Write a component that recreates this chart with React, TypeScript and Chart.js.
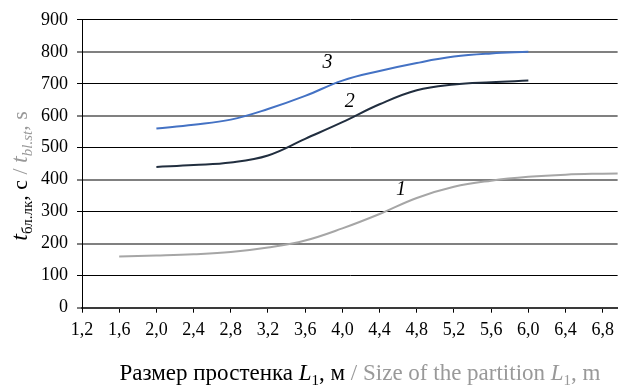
import React, { useEffect, useRef } from 'react';
import { Chart, registerables } from 'chart.js';

Chart.register(...registerables);

// ---- data ----
const xValues1 = [1.6, 2.0, 2.4, 2.8, 3.2, 3.6, 4.0, 4.4, 4.8, 5.2, 5.6, 6.0, 6.4, 6.8, 7.2];
const series1 = [160, 163, 167, 174, 188, 210, 248, 293, 343, 378, 397, 409, 416, 419, 421];
const xValues23 = [2.0, 2.4, 2.8, 3.2, 3.6, 4.0, 4.4, 4.8, 5.2, 5.6, 6.0];
const series2 = [440, 446, 454, 476, 528, 580, 636, 680, 698, 705, 710];
const series3 = [560, 572, 588, 621, 662, 710, 740, 765, 785, 795, 800];
const xTickValues = [1.2, 1.6, 2.0, 2.4, 2.8, 3.2, 3.6, 4.0, 4.4, 4.8, 5.2, 5.6, 6.0, 6.4, 6.8];
const xTickLabels = ['1,2', '1,6', '2,0', '2,4', '2,8', '3,2', '3,6', '4,0', '4,4', '4,8', '5,2', '5,6', '6,0', '6,4', '6,8'];
const yTickValues = [0, 100, 200, 300, 400, 500, 600, 700, 800, 900];
const curveLabels = ['1', '2', '3'];
const curveLabelX = [4.63, 4.08, 3.84];
const curveLabelY = [368, 645, 766];

const SERIF = '"Liberation Serif", "Times New Roman", serif';
const GRAY_TEXT = '#999999';

type Seg = { t: string; font: string; color: string; dy: number };

function drawSegs(ctx: CanvasRenderingContext2D, segs: Seg[], x: number, y: number) {
  let total = 0;
  for (const s of segs) {
    ctx.font = s.font;
    total += ctx.measureText(s.t).width;
  }
  let cx = x - total / 2;
  ctx.textAlign = 'left';
  ctx.textBaseline = 'alphabetic';
  for (const s of segs) {
    ctx.font = s.font;
    ctx.fillStyle = s.color;
    ctx.fillText(s.t, cx, y + s.dy);
    cx += ctx.measureText(s.t).width;
  }
}

const annotationPlugin = {
  id: 'annotations',
  afterDraw(chart: any) {
    const ctx: CanvasRenderingContext2D = chart.ctx;
    const xs = chart.scales.x;
    const ys = chart.scales.y;
    ctx.save();
    // curve labels
    ctx.font = `italic 20px ${SERIF}`;
    ctx.fillStyle = '#000';
    ctx.textAlign = 'center';
    ctx.textBaseline = 'middle';
    curveLabels.forEach((t, i) => {
      ctx.fillText(t, xs.getPixelForValue(curveLabelX[i]), ys.getPixelForValue(curveLabelY[i]));
    });
    // x title
    const main = `23px ${SERIF}`;
    const ital = `italic 23px ${SERIF}`;
    const sub = `15px ${SERIF}`;
    drawSegs(ctx, [
      { t: 'Размер простенка ', font: main, color: '#000', dy: 0 },
      { t: 'L', font: ital, color: '#000', dy: 0 },
      { t: '1', font: sub, color: '#000', dy: 5 },
      { t: ', м', font: main, color: '#000', dy: 0 },
      { t: ' / Size of the partition ', font: main, color: GRAY_TEXT, dy: 0 },
      { t: 'L', font: ital, color: GRAY_TEXT, dy: 0 },
      { t: '1', font: sub, color: GRAY_TEXT, dy: 5 },
      { t: ', m', font: main, color: GRAY_TEXT, dy: 0 },
    ], 360, 380);
    // y title
    ctx.translate(27, 176);
    ctx.rotate(-Math.PI / 2);
    const yMain = `22px ${SERIF}`;
    const yItal = `italic 24px ${SERIF}`;
    const ySub = `15px ${SERIF}`;
    const ySubI = `italic 15px ${SERIF}`;
    drawSegs(ctx, [
      { t: 't', font: yItal, color: '#000', dy: 0 },
      { t: 'бл.лк', font: ySub, color: '#000', dy: 5 },
      { t: ', с', font: yMain, color: '#000', dy: 0 },
      { t: ' / ', font: yMain, color: GRAY_TEXT, dy: 0 },
      { t: 't', font: yItal, color: GRAY_TEXT, dy: 0 },
      { t: 'bl.st', font: ySubI, color: GRAY_TEXT, dy: 5 },
      { t: ', s', font: yMain, color: GRAY_TEXT, dy: 0 },
    ], 0, 0);
    ctx.restore();
  },
};

export default function App() {
  const ref = useRef<HTMLCanvasElement | null>(null);
  useEffect(() => {
    document.body.style.margin = '0';
    const canvas = ref.current;
    if (!canvas) return;
    const chart = new Chart(canvas, {
      type: 'line',
      data: {
        datasets: [
          {
            label: '1',
            data: xValues1.map((x, i) => ({ x, y: series1[i] })),
            borderColor: '#a6a6a6',
            borderWidth: 2,
            pointRadius: 0,
            tension: 0.4,
            fill: false,
          },
          {
            label: '2',
            data: xValues23.map((x, i) => ({ x, y: series2[i] })),
            borderColor: '#212e3f',
            borderWidth: 2,
            pointRadius: 0,
            tension: 0.4,
            fill: false,
          },
          {
            label: '3',
            data: xValues23.map((x, i) => ({ x, y: series3[i] })),
            borderColor: '#4472c4',
            borderWidth: 2,
            pointRadius: 0,
            tension: 0.4,
            fill: false,
          },
        ],
      },
      options: {
        animation: false,
        responsive: true,
        maintainAspectRatio: false,
        layout: { padding: { top: 16, left: 0, right: 0, bottom: 0 } },
        plugins: { legend: { display: false }, tooltip: { enabled: false } },
        scales: {
          x: {
            type: 'linear',
            min: 1.2,
            max: 6.96,
            afterBuildTicks: (scale: any) => {
              scale.ticks = xTickValues.map((v) => ({ value: v }));
            },
            afterFit: (scale: any) => {
              scale.height = 84.3;
            },
            ticks: {
              autoSkip: false,
              maxRotation: 0,
              padding: 7,
              color: '#000',
              font: { family: SERIF, size: 18 },
              callback: (v: any) => {
                const i = xTickValues.findIndex((t) => Math.abs(t - Number(v)) < 1e-6);
                return i >= 0 ? xTickLabels[i] : '';
              },
            },
            grid: {
              drawOnChartArea: false,
              drawTicks: true,
              tickLength: 5,
              color: '#000',
              lineWidth: 1,
            },
            border: { display: true, color: '#3a3a3a', width: 2 },
          },
          y: {
            type: 'linear',
            min: 0,
            max: 900,
            afterBuildTicks: (scale: any) => {
              scale.ticks = yTickValues.map((v) => ({ value: v }));
            },
            afterFit: (scale: any) => {
              scale.width = 82;
            },
            ticks: {
              padding: 9,
              color: '#000',
              font: { family: SERIF, size: 18 },
              callback: (v: any) => String(v),
            },
            grid: {
              drawTicks: true,
              tickLength: 5,
              color: (c: any) => {
                const v = c.tick ? c.tick.value : 0;
                if (v === 0) return '#3a3a3a';
                return v % 200 === 0 ? '#808080' : '#000';
              },
              lineWidth: (c: any) => {
                const v = c.tick ? c.tick.value : 0;
                if (v === 0) return 2;
                return v % 200 === 0 ? 2 : 1;
              },
              tickColor: '#000',
              tickWidth: 1,
            },
            border: { display: true, color: '#000', width: 1 },
          },
        },
      },
      plugins: [annotationPlugin],
    });
    return () => chart.destroy();
  }, []);
  return (
    <div style={{ width: 621, height: 392, position: 'relative' }}>
      <canvas ref={ref} />
    </div>
  );
}
